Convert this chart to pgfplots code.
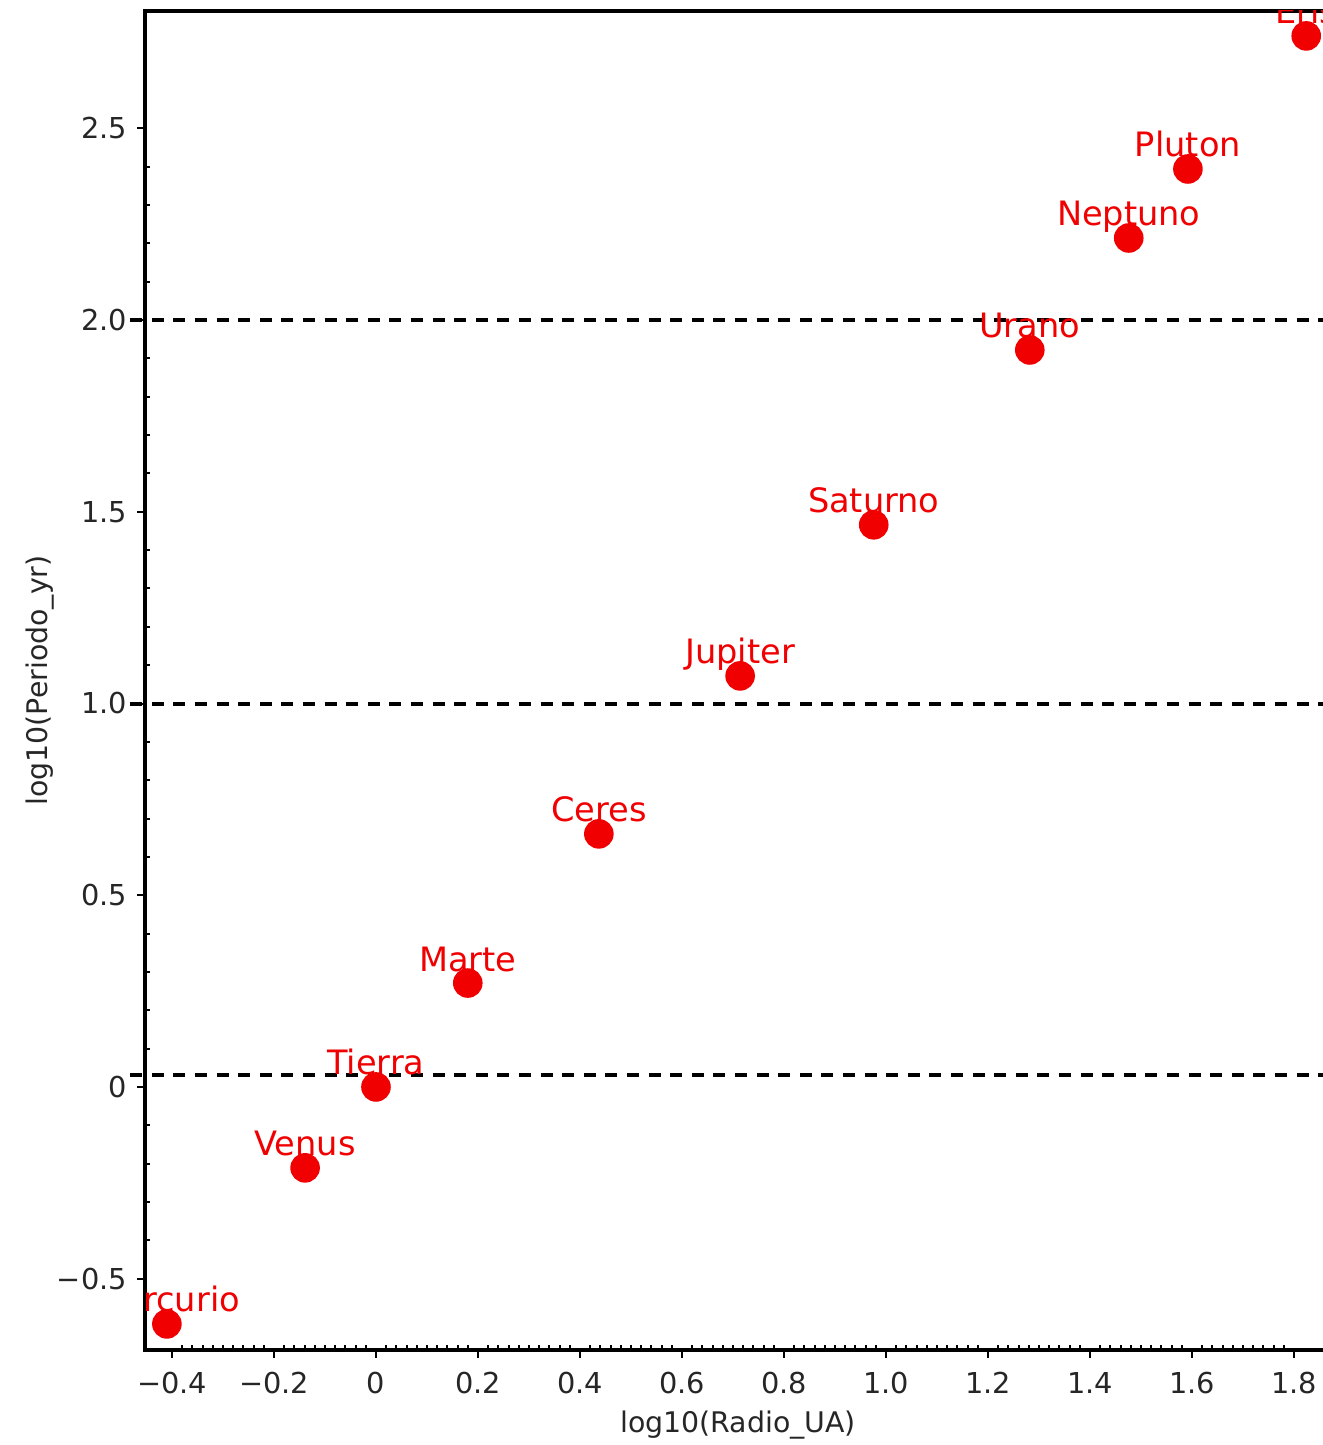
\documentclass[border=0pt]{standalone}
\usepackage{fontspec}
\setmainfont{DejaVu Sans}
\usepackage{pgfplots}
\pgfplotsset{compat=1.18}
\usepackage{pgfplotstable}

\definecolor{ptred}{RGB}{240,0,0}

% log10 of orbital radius (AU) and period (yr)
\pgfplotstableread{
x       y       name
-0.410  -0.618  Mercurio
-0.139  -0.211  Venus
 0.000   0.000  Tierra
 0.180   0.271  Marte
 0.437   0.660  Ceres
 0.714   1.072  Jupiter
 0.976   1.466  Saturno
 1.282   1.922  Urano
 1.476   2.214  Neptuno
 1.592   2.394  Pluton
 1.824   2.741  Eris
}\planets

\pgfplotsset{
  kepler/.style={
    at={(0,0)}, anchor=south west, scale only axis,
    width=296.55pt, height=334.75pt,
    xmin=-0.4529, xmax=1.873, ymin=-0.686, ymax=2.806,
  },
}

\begin{document}
\begin{tikzpicture}
\path[use as bounding box, clip] (-36.25pt,-23.75pt) rectangle (294.5pt,337.5pt);

\begin{axis}[
  kepler,
  clip=false,
  axis line style={line width=0.8pt},
  xtick pos=bottom, ytick pos=left,
  tick align=inside,
  major tick length=-2pt,
  minor tick length=1.2pt,
  every tick/.style={black, line width=0.5pt},
  xtick={-0.4,-0.2,0,0.2,0.4,0.6,0.8,1.0,1.2,1.4,1.6,1.8},
  xticklabels={−0.4,−0.2,0,0.2,0.4,0.6,0.8,1.0,1.2,1.4,1.6,1.8},
  minor x tick num=9,
  ytick={-0.5,0,0.5,1,1.5,2,2.5},
  yticklabels={−0.5,0,0.5,1.0,1.5,2.0,2.5},
  minor y tick num=4,
  ticklabel style={font=\fontsize{7.2}{8}\selectfont, text=black!85},
  yticklabel style={xshift=-1pt},
  xticklabel style={yshift=-2pt},
  xlabel={log10(Radio\_UA)},
  ylabel={log10(Periodo\_yr)},
  label style={font=\fontsize{7.1}{8}\selectfont, text=black!85},
  xlabel style={at={(axis description cs:0.5,-0.056)}, anchor=center},
  ylabel style={at={(axis description cs:-0.0885,0.5)}, anchor=center},
]
  % reference levels
  \addplot[black, line width=1pt, dash pattern=on 3pt off 2.4pt] coordinates {(-0.482,2.0) (1.95,2.0)};
  \addplot[black, line width=1pt, dash pattern=on 3pt off 2.4pt] coordinates {(-0.482,1.0) (1.95,1.0)};
  \addplot[black, line width=1pt, dash pattern=on 3pt off 2.4pt] coordinates {(-0.482,0.031) (1.95,0.031)};
\end{axis}

\begin{scope}
\clip (0,0) rectangle (296.55pt,334.75pt);
\begin{axis}[kepler, hide axis, clip=false]
  \addplot[
    ptred, only marks, mark=*, mark size=3.5pt,
    mark options={draw=none, fill=ptred},
    point meta=explicit symbolic,
    nodes near coords,
    every node near coord/.append style={
      anchor=base, yshift=3pt, inner sep=0pt,
      text=ptred, font=\fontsize{8.4}{10}\selectfont},
  ] table[x=x, y=y, meta=name] {\planets};
\end{axis}
\end{scope}
\end{tikzpicture}
\end{document}
